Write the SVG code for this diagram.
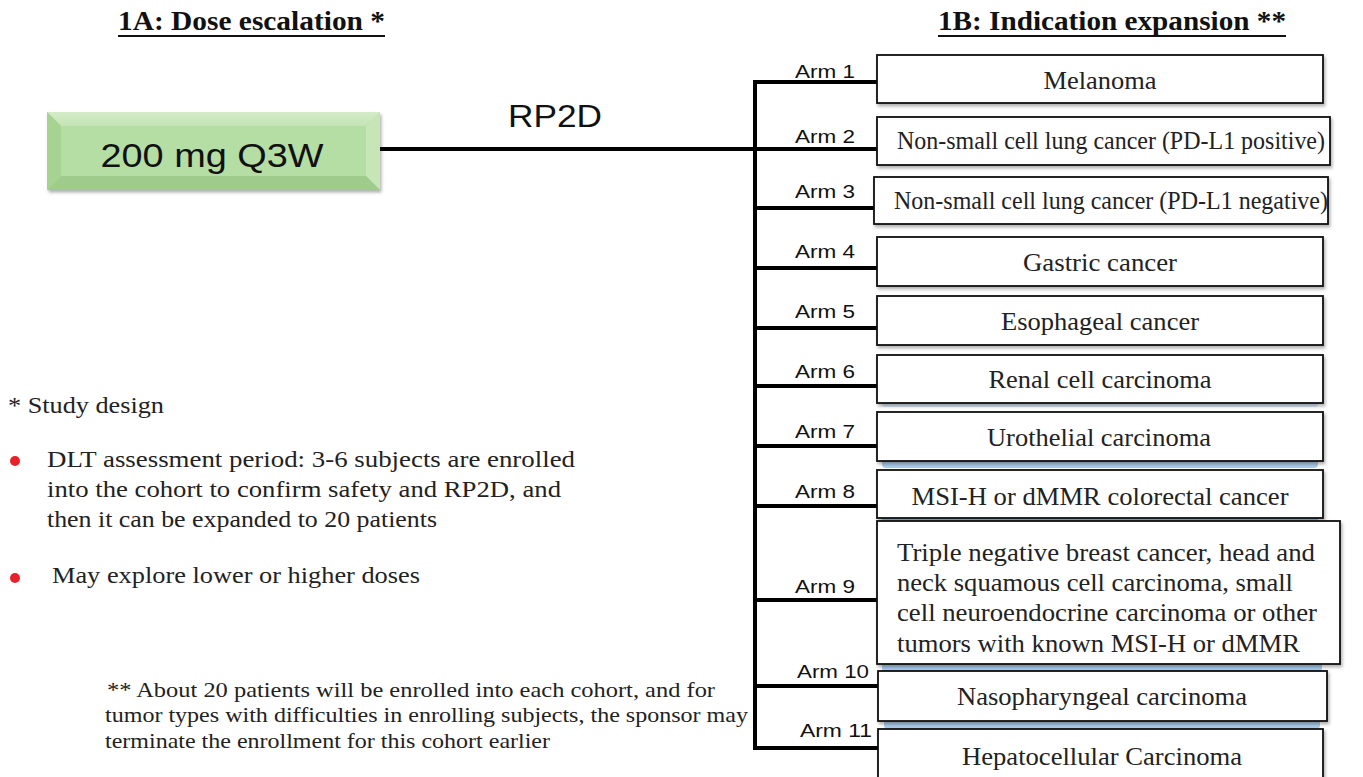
<svg xmlns="http://www.w3.org/2000/svg" width="1363" height="777" viewBox="0 0 1363 777">
<defs>
<style>
.title{font-family:"Liberation Serif","Times New Roman",serif;font-weight:bold;font-size:27px;fill:#111}
.arm{font-family:"Liberation Sans",Arial,sans-serif;font-size:19px;fill:#111}
.bt{font-family:"Liberation Serif","Times New Roman",serif;font-size:25px;fill:#222}
.b9{font-family:"Liberation Serif","Times New Roman",serif;font-size:26px;fill:#222}
.note{font-family:"Liberation Serif","Times New Roman",serif;font-size:24px;fill:#222}
.foot{font-family:"Liberation Serif","Times New Roman",serif;font-size:21px;fill:#222}
.box{fill:#fff;stroke:#111;stroke-width:1.8}
.conn{stroke:#000;stroke-width:4;fill:none}
.blue{fill:#a9cbea}
</style>
<filter id="sh" x="-5%" y="-10%" width="110%" height="130%">
<feDropShadow dx="1.5" dy="2.5" stdDeviation="1.5" flood-color="#000" flood-opacity="0.3"/>
</filter>
<linearGradient id="gtop" x1="0" y1="0" x2="0" y2="1"><stop offset="0" stop-color="#d4ecc8"/><stop offset="1" stop-color="#c3e4b4"/></linearGradient>
</defs>

<g id="titles">
<text class="title" x="118" y="30" textLength="267" lengthAdjust="spacingAndGlyphs">1A: Dose escalation *</text>
<rect x="118" y="35" width="267" height="2" fill="#111"/>
<text class="title" x="938" y="30" textLength="348" lengthAdjust="spacingAndGlyphs">1B: Indication expansion **</text>
<rect x="938" y="35" width="348" height="2" fill="#111"/>
</g>

<g id="connectors">
<line class="conn" x1="380" y1="149" x2="757" y2="149"/>
<line class="conn" x1="755" y1="80" x2="755" y2="750"/>
<line class="conn" x1="753" y1="82" x2="878" y2="82"/>
<line class="conn" x1="753" y1="149" x2="878" y2="149"/>
<line class="conn" x1="753" y1="208" x2="875" y2="208"/>
<line class="conn" x1="753" y1="268" x2="878" y2="268"/>
<line class="conn" x1="753" y1="328" x2="878" y2="328"/>
<line class="conn" x1="753" y1="386" x2="878" y2="386"/>
<line class="conn" x1="753" y1="446" x2="878" y2="446"/>
<line class="conn" x1="753" y1="506" x2="878" y2="506"/>
<line class="conn" x1="753" y1="600" x2="878" y2="600"/>
<line class="conn" x1="753" y1="686" x2="879" y2="686"/>
<line class="conn" x1="753" y1="748" x2="879" y2="748"/>
<text x="555" y="127" font-family="Liberation Sans,Arial,sans-serif" font-size="32" fill="#111" text-anchor="middle" textLength="94" lengthAdjust="spacingAndGlyphs">RP2D</text>
</g>

<g id="dose">
<rect x="47" y="112" width="333" height="78" fill="#b3dca2" filter="url(#sh)"/>
<polygon points="47,112 380,112 366,126 61,126" fill="url(#gtop)"/>
<polygon points="47,112 61,126 61,176 47,190" fill="#a6d392"/>
<polygon points="380,112 380,190 366,176 366,126" fill="#c6e6b8"/>
<polygon points="47,190 61,176 366,176 380,190" fill="#9fcb8c"/>
<rect x="61" y="126" width="305" height="50" fill="#b5dea4"/>
<text x="212" y="167" font-family="Liberation Sans,Arial,sans-serif" font-size="34" fill="#111" text-anchor="middle" textLength="223" lengthAdjust="spacingAndGlyphs">200 mg Q3W</text>
</g>

<g id="arm1">
<text class="arm" x="855" y="78" text-anchor="end" textLength="60" lengthAdjust="spacingAndGlyphs">Arm 1</text>
<rect class="box" x="877" y="55" width="446" height="48" filter="url(#sh)"/>
<text class="bt" x="1100" y="89" text-anchor="middle" textLength="113" lengthAdjust="spacingAndGlyphs">Melanoma</text>
</g>
<g id="arm2">
<text class="arm" x="855" y="143" text-anchor="end" textLength="60" lengthAdjust="spacingAndGlyphs">Arm 2</text>
<rect class="box" x="877" y="117" width="453" height="48" filter="url(#sh)"/>
<text class="bt" x="1111" y="149" text-anchor="middle" textLength="428" lengthAdjust="spacingAndGlyphs">Non-small cell lung cancer (PD-L1 positive)</text>
</g>
<g id="arm3">
<text class="arm" x="855" y="198" text-anchor="end" textLength="60" lengthAdjust="spacingAndGlyphs">Arm 3</text>
<rect class="box" x="874" y="177" width="454" height="47" filter="url(#sh)"/>
<text class="bt" x="1111" y="209" text-anchor="middle" textLength="434" lengthAdjust="spacingAndGlyphs">Non-small cell lung cancer (PD-L1 negative)</text>
</g>
<g id="arm4">
<text class="arm" x="855" y="258" text-anchor="end" textLength="60" lengthAdjust="spacingAndGlyphs">Arm 4</text>
<rect class="box" x="877" y="237" width="446" height="49" filter="url(#sh)"/>
<text class="bt" x="1100" y="271" text-anchor="middle" textLength="154" lengthAdjust="spacingAndGlyphs">Gastric cancer</text>
</g>
<g id="arm5">
<text class="arm" x="855" y="318" text-anchor="end" textLength="60" lengthAdjust="spacingAndGlyphs">Arm 5</text>
<rect class="box" x="877" y="296" width="446" height="49" filter="url(#sh)"/>
<text class="bt" x="1100" y="330" text-anchor="middle" textLength="198" lengthAdjust="spacingAndGlyphs">Esophageal cancer</text>
</g>
<g id="arm6">
<text class="arm" x="855" y="378" text-anchor="end" textLength="60" lengthAdjust="spacingAndGlyphs">Arm 6</text>
<rect class="blue" x="882" y="398" width="436" height="9" rx="3" opacity="0.5"/>
<rect class="box" x="877" y="355" width="446" height="48" filter="url(#sh)"/>
<text class="bt" x="1100" y="388" text-anchor="middle" textLength="223" lengthAdjust="spacingAndGlyphs">Renal cell carcinoma</text>
</g>
<g id="arm7">
<text class="arm" x="855" y="438" text-anchor="end" textLength="60" lengthAdjust="spacingAndGlyphs">Arm 7</text>
<rect class="blue" x="882" y="455" width="436" height="13" rx="4"/>
<rect class="box" x="877" y="412" width="446" height="49" filter="url(#sh)"/>
<text class="bt" x="1099" y="446" text-anchor="middle" textLength="224" lengthAdjust="spacingAndGlyphs">Urothelial carcinoma</text>
</g>
<g id="arm8">
<text class="arm" x="855" y="498" text-anchor="end" textLength="60" lengthAdjust="spacingAndGlyphs">Arm 8</text>
<rect class="blue" x="882" y="512" width="436" height="12" rx="4"/>
<rect class="box" x="877" y="470" width="446" height="48" filter="url(#sh)"/>
<text class="bt" x="1100" y="505" text-anchor="middle" textLength="377" lengthAdjust="spacingAndGlyphs">MSI-H or dMMR colorectal cancer</text>
</g>
<g id="arm9">
<text class="arm" x="855" y="593" text-anchor="end" textLength="60" lengthAdjust="spacingAndGlyphs">Arm 9</text>
<rect class="blue" x="882" y="657" width="440" height="15" rx="4"/>
<rect class="box" x="877" y="521" width="463" height="143" filter="url(#sh)"/>
<text class="b9" x="897" y="561" textLength="418" lengthAdjust="spacingAndGlyphs">Triple negative breast cancer, head and</text>
<text class="b9" x="897" y="591" textLength="396" lengthAdjust="spacingAndGlyphs">neck squamous cell carcinoma, small</text>
<text class="b9" x="897" y="621" textLength="420" lengthAdjust="spacingAndGlyphs">cell neuroendocrine carcinoma or other</text>
<text class="b9" x="897" y="652" textLength="403" lengthAdjust="spacingAndGlyphs">tumors with known MSI-H or dMMR</text>
</g>
<g id="arm10">
<text class="arm" x="869" y="678" text-anchor="end" textLength="72" lengthAdjust="spacingAndGlyphs">Arm 10</text>
<rect class="blue" x="884" y="715" width="436" height="14" rx="4"/>
<rect class="box" x="878" y="671" width="449" height="50" filter="url(#sh)"/>
<text class="bt" x="1102" y="705" text-anchor="middle" textLength="290" lengthAdjust="spacingAndGlyphs">Nasopharyngeal carcinoma</text>
</g>
<g id="arm11">
<text class="arm" x="872" y="737" text-anchor="end" textLength="72" lengthAdjust="spacingAndGlyphs">Arm 11</text>
<rect class="box" x="878" y="729" width="445" height="52" filter="url(#sh)"/>
<text class="bt" x="1102" y="765" text-anchor="middle" textLength="280" lengthAdjust="spacingAndGlyphs">Hepatocellular Carcinoma</text>
</g>

<g id="notes">
<text class="note" x="8" y="413" textLength="156" lengthAdjust="spacingAndGlyphs">* Study design</text>
<circle cx="15" cy="461" r="5" fill="#e8202a"/>
<text class="note" x="47" y="467" textLength="528" lengthAdjust="spacingAndGlyphs">DLT assessment period: 3-6 subjects are enrolled</text>
<text class="note" x="47" y="497" textLength="514" lengthAdjust="spacingAndGlyphs">into the cohort to confirm safety and RP2D, and</text>
<text class="note" x="47" y="527" textLength="390" lengthAdjust="spacingAndGlyphs">then it can be expanded to 20 patients</text>
<circle cx="15" cy="578" r="5" fill="#e8202a"/>
<text class="note" x="52" y="583" textLength="368" lengthAdjust="spacingAndGlyphs">May explore lower or higher doses</text>
</g>

<g id="footnote">
<text class="foot" x="107" y="697" textLength="608" lengthAdjust="spacingAndGlyphs">** About 20 patients will be enrolled into each cohort, and for</text>
<text class="foot" x="105" y="722" textLength="643" lengthAdjust="spacingAndGlyphs">tumor types with difficulties in enrolling subjects, the sponsor may</text>
<text class="foot" x="105" y="748" textLength="445" lengthAdjust="spacingAndGlyphs">terminate the enrollment for this cohort earlier</text>
</g>
</svg>
